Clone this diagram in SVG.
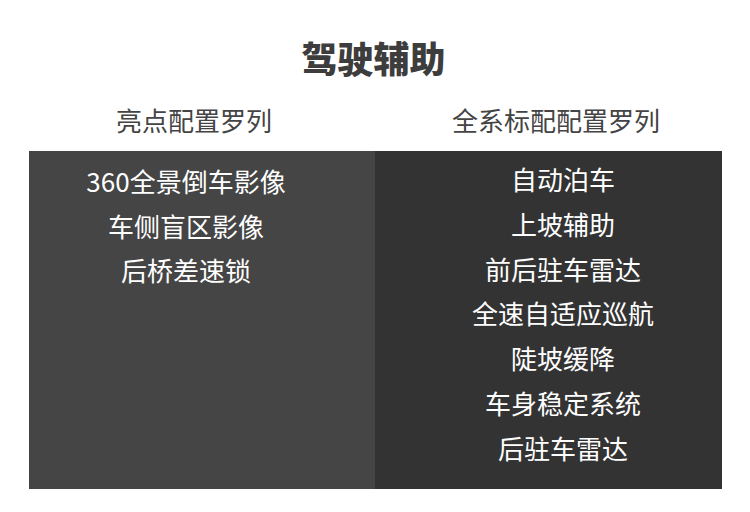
<svg xmlns="http://www.w3.org/2000/svg" width="750" height="512" viewBox="0 0 750 512">
<style>
text{font-family:"Noto Sans CJK SC","Noto Sans",sans-serif;text-anchor:middle}
.title{font-size:36px;font-weight:900;fill:#3d3d3d}
.head{font-size:26px;font-weight:400;fill:#444}
.item{font-size:26px;fill:#fff}
</style>
<rect width="750" height="512" fill="#fff"/>
<g id="title"><text class="title" x="373.5" y="73">驾驶辅助</text></g>
<g id="left-column">
<text class="head" x="194" y="131">亮点配置罗列</text>
<rect x="29" y="151" width="346" height="338" fill="#454545"/>
<text class="item" x="186" y="192">360全景倒车影像</text>
<text class="item" x="186" y="236.5">车侧盲区影像</text>
<text class="item" x="186" y="281">后桥差速锁</text>
</g>
<g id="right-column">
<text class="head" x="556" y="131">全系标配配置罗列</text>
<rect x="375" y="151" width="347" height="338" fill="#333"/>
<text class="item" x="563" y="189.5">自动泊车</text>
<text class="item" x="563" y="234.5">上坡辅助</text>
<text class="item" x="563" y="279.5">前后驻车雷达</text>
<text class="item" x="563" y="324">全速自适应巡航</text>
<text class="item" x="563" y="369">陡坡缓降</text>
<text class="item" x="563" y="414">车身稳定系统</text>
<text class="item" x="563" y="459">后驻车雷达</text>
</g>
<g id="connectors"/>
</svg>
